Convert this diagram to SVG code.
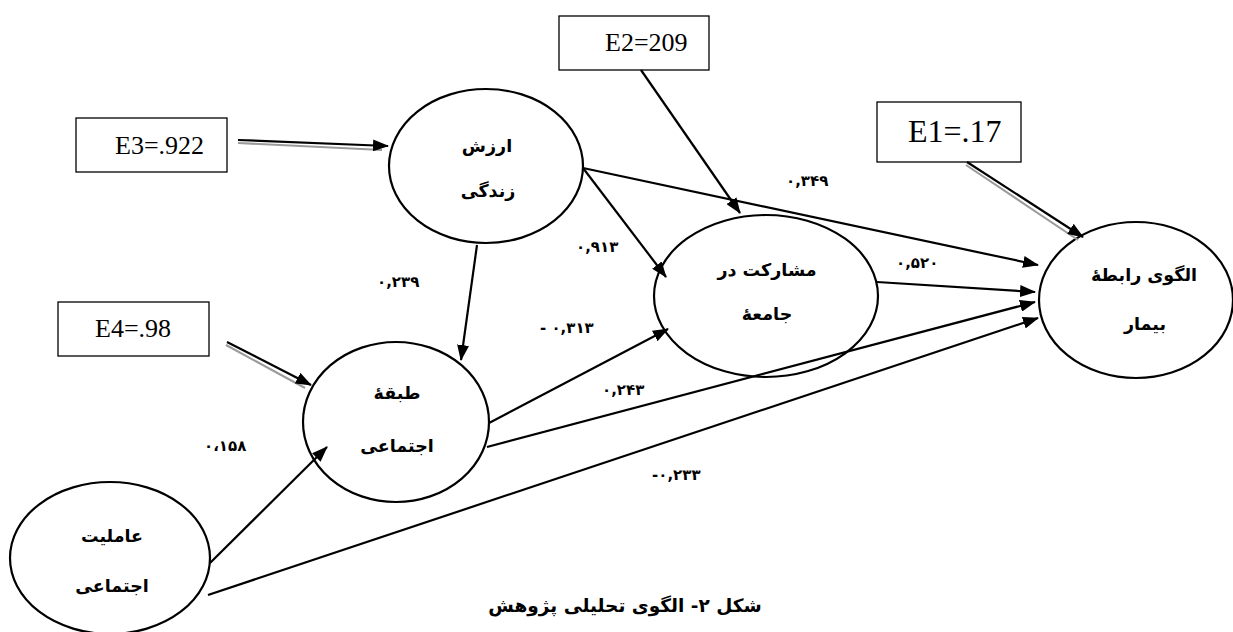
<svg xmlns="http://www.w3.org/2000/svg" width="1233" height="632" viewBox="0 0 1233 632">
<style>
.node ellipse{fill:#fff;stroke:#000;stroke-width:2.2}
.box rect{fill:#fff;stroke:#000;stroke-width:1.3}
.etxt{font-family:"Liberation Serif",serif;font-size:26px;fill:#000}
.fa{font-family:"DejaVu Sans",sans-serif;font-weight:bold;font-size:17.5px;fill:#000;text-anchor:middle}
.num{font-family:"DejaVu Sans",sans-serif;font-weight:bold;font-size:15px;fill:#000}
.edge{stroke:#000;stroke-width:2.2;fill:none}
.shadow{stroke:#9a9a9a;stroke-width:2;fill:none}
</style>
<defs>
<marker id="ah" viewBox="0 0 16 12" refX="15" refY="6" markerWidth="16" markerHeight="12" markerUnits="userSpaceOnUse" orient="auto">
<path d="M0,0 L16,6 L0,12 z" fill="#000"/>
</marker>
</defs>
<rect width="1233" height="632" fill="#fff"/>

<g id="E3" class="box"><rect x="76" y="118" width="151" height="54"/><text class="etxt" x="115" y="154">E3=.922</text></g>
<g id="E2" class="box"><rect x="559" y="16" width="150" height="54"/><text class="etxt" x="605" y="51">E2=209</text></g>
<g id="E4" class="box"><rect x="58" y="302" width="151" height="54"/><text class="etxt" x="95" y="337">E4=.98</text></g>
<g id="E1" class="box"><rect x="877" y="102" width="144" height="60"/><text class="etxt" x="908" y="142" style="font-size:32px">E1=.17</text></g>

<g id="arzesh" class="node"><ellipse cx="486" cy="166" rx="97" ry="77"/><text class="fa" x="487" y="152">ارزش</text><text class="fa" x="488" y="197">زندگی</text></g>
<g id="mosharekat" class="node"><ellipse cx="766" cy="296" rx="112" ry="81"/><text class="fa" x="767" y="276">مشارکت در</text><text class="fa" x="767" y="320">جامعۀ</text></g>
<g id="olgoo" class="node"><ellipse cx="1136" cy="300" rx="97" ry="78"/><text class="fa" x="1144" y="281">الگوی رابطۀ</text><text class="fa" x="1145" y="330">بیمار</text></g>
<g id="tabaghe" class="node"><ellipse cx="396" cy="422" rx="93" ry="80"/><text class="fa" x="397" y="399">طبقۀ</text><text class="fa" x="397" y="452">اجتماعی</text></g>
<g id="amelyat" class="node"><ellipse cx="110" cy="558" rx="100" ry="76"/><text class="fa" x="112" y="542">عاملیت</text><text class="fa" x="112" y="592">اجتماعی</text></g>

<g id="connectors">
<line class="shadow" x1="238" y1="143" x2="382" y2="150"/>
<line class="edge" x1="238" y1="140" x2="388" y2="146" marker-end="url(#ah)"/>
<line class="shadow" x1="966" y1="165" x2="1078" y2="240"/>
<line class="edge" x1="967" y1="162" x2="1083" y2="237" marker-end="url(#ah)"/>
<line class="shadow" x1="226" y1="345" x2="305" y2="388"/>
<line class="edge" x1="227" y1="342" x2="311" y2="385" marker-end="url(#ah)"/>
<line class="edge" x1="641" y1="70" x2="740" y2="213" marker-end="url(#ah)"/>
<line class="edge" x1="583" y1="168" x2="666" y2="277" marker-end="url(#ah)"/>
<line class="edge" x1="583" y1="168" x2="1038" y2="265" marker-end="url(#ah)"/>
<line class="edge" x1="477" y1="245" x2="461" y2="360" marker-end="url(#ah)"/>
<line class="edge" x1="877" y1="282" x2="1035" y2="292" marker-end="url(#ah)"/>
<line class="edge" x1="489" y1="423" x2="668" y2="329" marker-end="url(#ah)"/>
<line class="edge" x1="487" y1="447" x2="1035" y2="302" marker-end="url(#ah)"/>
<line class="edge" x1="210" y1="563" x2="327" y2="447" marker-end="url(#ah)"/>
<line class="edge" x1="208" y1="595" x2="1038" y2="318" marker-end="url(#ah)"/>
</g>

<g id="labels">
<text class="num" x="786" y="186">۰,۳۴۹</text>
<text class="num" x="576" y="252">۰,۹۱۳</text>
<text class="num" x="377" y="287">۰,۲۳۹</text>
<text class="num" x="540" y="333">- ۰,۳۱۳</text>
<text class="num" x="602" y="395">۰,۲۴۳</text>
<text class="num" x="652" y="480">-۰,۲۳۳</text>
<text class="num" x="896" y="268">۰,۵۲۰</text>
<text class="num" x="204" y="451">۰،۱۵۸</text>
</g>

<text id="caption" x="625" y="612" direction="rtl" style="font-family:'DejaVu Sans',sans-serif;font-weight:bold;font-size:18.5px;text-anchor:middle">شکل ۲- الگوی تحلیلی پژوهش</text>
</svg>
